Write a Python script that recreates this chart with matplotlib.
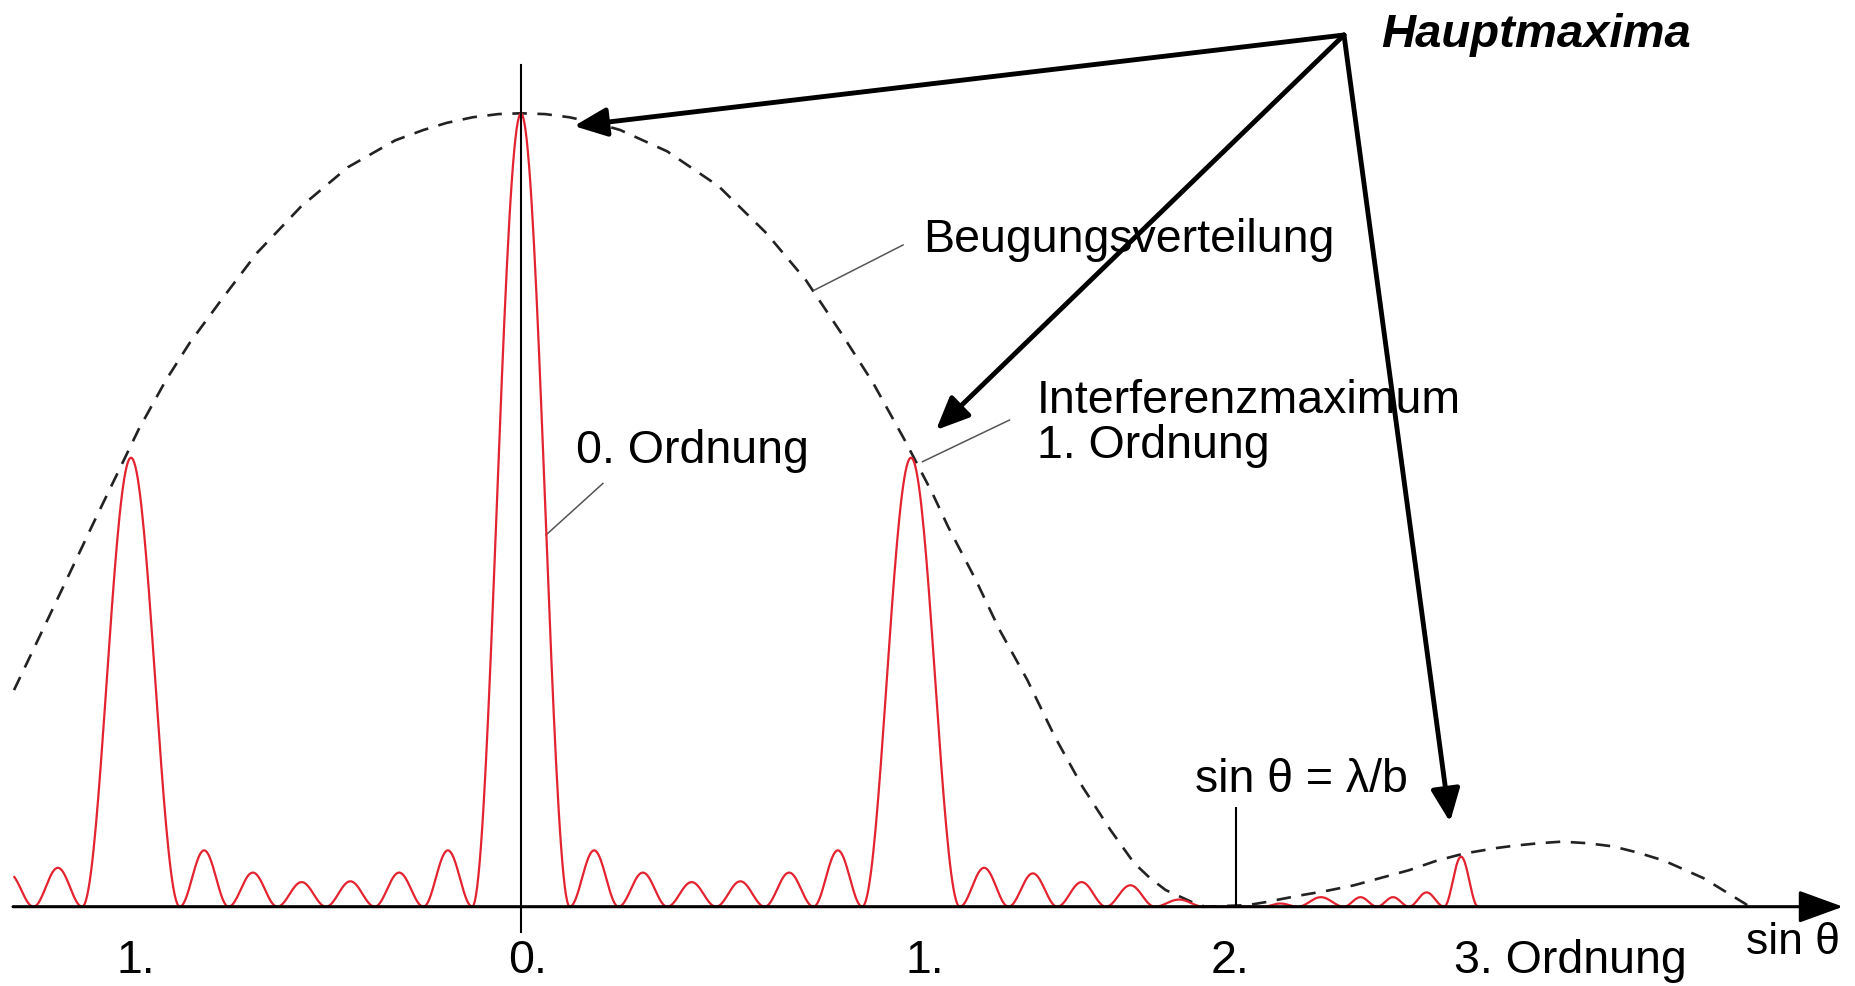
import matplotlib.pyplot as plt
import numpy as np

plt.rcParams["font.family"] = ["Liberation Sans", "DejaVu Sans"]

# red interference pattern: zeros where the curve touches the axis (order units)
# and the height of each lobe between two neighbouring zeros
zeros = [-1.375, -1.25, -1.125,
         -0.875, -0.75, -0.625, -0.5, -0.375, -0.25, -0.125,
         0.125, 0.25, 0.375, 0.5, 0.625, 0.75, 0.875,
         1.125, 1.25, 1.375, 1.5, 1.625, 1.75,
         1.903, 1.992, 2.110, 2.195, 2.277, 2.367, 2.454]
lobe_heights = [0.042, 0.049, 0.566,
                0.071, 0.043, 0.031, 0.032, 0.043, 0.071,
                1.0,
                0.071, 0.043, 0.031, 0.032, 0.043, 0.071,
                0.566,
                0.049, 0.042, 0.031, 0.027, 0.009,
                0.0,
                0.004, 0.012, 0.012, 0.012, 0.018, 0.063]

# dashed diffraction envelope
envelope_x = [-1.30, -1.235, -1.174, -1.093, -1.031, -0.981, -0.910, -0.849,
              -0.768, -0.677, -0.565, -0.444, -0.322, -0.250, -0.190, -0.124,
              -0.058, 0.0, 0.062, 0.124, 0.190, 0.254, 0.375, 0.507, 0.629,
              0.730, 0.821, 0.903, 0.984, 1.055, 1.095, 1.166, 1.227, 1.298,
              1.369, 1.440, 1.511, 1.572, 1.613, 1.653, 1.724, 1.754, 1.864,
              1.912, 1.995, 2.066, 2.136, 2.210, 2.277, 2.348, 2.418, 2.502,
              2.549, 2.610, 2.669, 2.735, 2.800, 2.865, 2.931, 3.032, 3.085,
              3.138, 3.150]
envelope_y = [0.273, 0.340, 0.403, 0.487, 0.550, 0.601, 0.664, 0.711,
              0.765, 0.824, 0.882, 0.932, 0.966, 0.979, 0.988, 0.995,
              0.999, 1.0, 0.999, 0.995, 0.988, 0.979, 0.952, 0.908, 0.849,
              0.790, 0.723, 0.660, 0.588, 0.521, 0.479, 0.412, 0.349, 0.286,
              0.214, 0.151, 0.097, 0.055, 0.036, 0.021, 0.005, 0.0, 0.002,
              0.006, 0.014, 0.020, 0.027, 0.037, 0.046, 0.058, 0.067, 0.074,
              0.077, 0.080, 0.082, 0.080, 0.076, 0.068, 0.058, 0.036, 0.020,
              0.004, 0.0]

order_ticks = [-0.987, 0.018, 1.036, 1.817]
order_labels = ["1.", "0.", "1.", "2."]

fig = plt.figure(figsize=(18.56, 9.86), dpi=100)
ax = fig.add_axes([0, 0, 1, 1])
ax.set_xlim(-1.3359, 3.4231)
ax.set_ylim(-0.09995, 1.1428)
ax.axis("off")

# red curve, one sin^2 hump per lobe
xs, ys = [], []
for a, b, h in zip(zeros[:-1], zeros[1:], lobe_heights):
    t = np.linspace(0, 1, 80)
    xs.append(a + (b - a) * t)
    ys.append(h * np.sin(np.pi * t) ** 2)
x = np.concatenate(xs)
y = np.concatenate(ys)
keep = x >= -1.30
ax.plot(x[keep], y[keep], color="#e3232f", lw=1.6, zorder=3,
        solid_joinstyle="round")

ax.plot(envelope_x, envelope_y, color="#222222", lw=1.9,
        linestyle=(0, (5.5, 4)), zorder=2)

# axes
ax.annotate("", xy=(3.3897, 0), xytext=(-1.3026, 0),
            arrowprops=dict(arrowstyle="-|>,head_length=0.55,head_width=0.2",
                            mutation_scale=50, lw=2.2, color="black",
                            shrinkA=0, shrinkB=0), zorder=4)
ax.plot([0, 0], [-0.0319, 1.0608], color="black", lw=1.5, zorder=4)
ax.plot([1.8333, 1.8333], [0, 0.1244], color="black", lw=1.5, zorder=4)

fs = 33.5
for pos, lab in zip(order_ticks, order_labels):
    ax.text(pos, -0.0835, lab, fontsize=fs, ha="center", va="baseline")
ax.text(2.3936, -0.0835, "3. Ordnung", fontsize=fs, ha="left", va="baseline")
ax.text(3.141, -0.060, "sin θ", fontsize=32, ha="left", va="baseline")

# labels with leader lines
ax.text(1.0308, 0.8252, "Beugungsverteilung", fontsize=fs, va="baseline")
ax.plot([0.7513, 0.9795], [0.7769, 0.8340], color="#555555", lw=1.1)

ax.text(1.3231, 0.6224, "Interferenzmaximum", fontsize=fs, va="baseline")
ax.text(1.3231, 0.5657, "1. Ordnung", fontsize=fs, va="baseline")
ax.plot([1.0295, 1.2526], [0.5609, 0.6134], color="#555555", lw=1.1)

ax.text(0.1423, 0.5592, "0. Ordnung", fontsize=fs, va="baseline")
ax.plot([0.0641, 0.2100], [0.4685, 0.5335], color="#555555", lw=1.1)

ax.text(1.7295, 0.1446, "sin θ = λ/b", fontsize=fs, va="baseline")

# Hauptmaxima arrows
ax.text(2.2064, 1.0836, "Hauptmaxima", fontsize=34, fontweight="bold",
        fontstyle="italic", va="baseline")
apex = (2.1103, 1.0987)
for tip in [(0.1359, 0.9839), (1.0641, 0.6008), (2.3821, 0.1068)]:
    ax.annotate("", xy=tip, xytext=apex,
                arrowprops=dict(arrowstyle="-|>,head_length=0.5,head_width=0.22",
                                mutation_scale=40, lw=3.5, color="black",
                                shrinkA=0, shrinkB=0), zorder=5)

fig.savefig("out.png", dpi=100)
plt.close(fig)
